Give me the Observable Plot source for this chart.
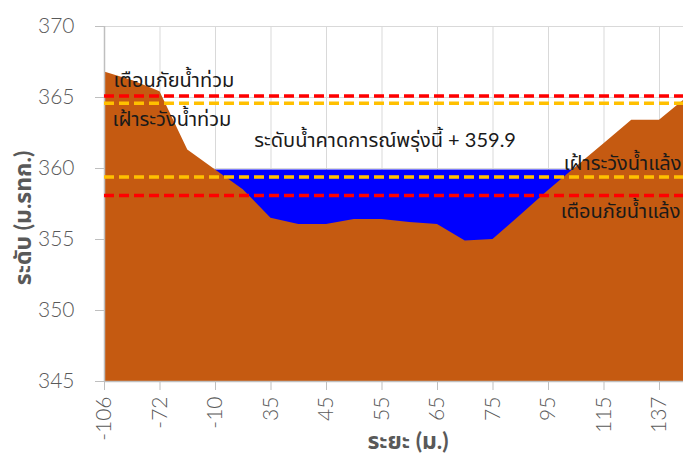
<!DOCTYPE html>
<html><head><meta charset="utf-8">
<script src="https://cdn.jsdelivr.net/npm/d3@7"></script>
<script src="https://cdn.jsdelivr.net/npm/@observablehq/plot@0.6"></script>
<style>
body{margin:0;background:#fff;overflow:hidden}
#chart svg{font-family:Lato,"Noto Sans Thai","Noto Sans",sans-serif}
</style>
</head><body><div id="chart"></div>
<script>
// Categories (distance, m) – every other one is labelled on the axis
const categories = ["-106","-89","-72","-41","-10","12","35","40","45","50","55","60","65","70","75","85","95","105","115","126","137","148"];
const tickLabels = ["-106","-72","-10","35","45","55","65","75","95","115","137"];
// Ground elevation (m MSL) at each category
const groundLevel = [366.8,366.2,365.4,361.3,359.9,358.5,356.5,356.05,356.05,356.4,356.4,356.2,356.05,354.9,355.0,356.7,358.45,360.1,361.75,363.4,363.4,365.0];
// Forecast water level (null where no water)
const waterLevel = [null,null,null,null,359.9,359.9,359.9,359.9,359.9,359.9,359.9,359.9,359.9,359.9,359.9,359.9,359.9,359.9,null,null,null,null];
const forecast = 359.9;
const yTicks = [345,350,355,360,365,370];
// Threshold levels
const floodWarning = 365.1;
const floodWatch = 364.6;
const droughtWatch = 359.4;
const droughtWarning = 358.1;
const floodWarningLabel = "เตือนภัยน้ำท่วม";
const floodWatchLabel = "เฝ้าระวังน้ำท่วม";
const droughtWatchLabel = "เฝ้าระวังน้ำแล้ง";
const droughtWarningLabel = "เตือนภัยน้ำแล้ง";
const forecastLabel = "ระดับน้ำคาดการณ์พรุ่งนี้ + " + forecast;
const xTitle = "ระยะ (ม.)";
const yTitle = "ระดับ (ม.รทก.)";

const ground = categories.map((c, i) => ({cat: c, y: groundLevel[i]}));
const water = categories.map((c, i) => ({cat: c, y: waterLevel[i]})).filter(d => d.y != null);
const base = yTicks[0];

const gray = "#595959";
const ink = "#1a1a1a";
const chart = Plot.plot({
  width: 683,
  height: 462,
  marginLeft: 104,
  marginRight: 0,
  marginTop: 26,
  marginBottom: 81,
  style: {overflow: "hidden"},
  x: {type: "point", domain: categories, range: [104, 686.75], padding: 0, align: 0, round: false},
  y: {domain: [345, 370]},
  marks: [
    Plot.ruleY(yTicks.slice(1), {stroke: "#d9d9d9", strokeWidth: 1}),
    Plot.ruleX(tickLabels.slice(1), {stroke: "#d9d9d9", strokeWidth: 1, y1: 345, y2: 370}),
    Plot.areaY(water, {x: "cat", y1: base, y2: "y", fill: "#0000ff", curve: "linear"}),
    Plot.areaY(ground, {x: "cat", y1: base, y2: "y", fill: "#c55a11", curve: "linear"}),
    Plot.ruleY([base], {stroke: "#bfbfbf", strokeWidth: 1.5}),
    Plot.ruleX([categories[0]], {stroke: "#bfbfbf", strokeWidth: 1.5, y1: 345, y2: 370}),
    Plot.axisY({ticks: yTicks, tickSize: 9, tickPadding: 21, fontSize: 21, stroke: "#bfbfbf", fill: gray, fontWeight: 300, label: null}),
    Plot.axisX({ticks: tickLabels, tickRotate: -90, tickSize: 9, tickPadding: 6, fontSize: 21, stroke: "#bfbfbf", fill: gray, fontWeight: 300, label: null}),
    Plot.ruleY([floodWarning], {stroke: "#ff0000", strokeWidth: 3.5, strokeDasharray: "10,5"}),
    Plot.ruleY([floodWatch], {stroke: "#ffc000", strokeWidth: 3.5, strokeDasharray: "10,5"}),
    Plot.ruleY([droughtWatch], {stroke: "#ffc000", strokeWidth: 3.5, strokeDasharray: "10,5"}),
    Plot.ruleY([droughtWarning], {stroke: "#ff0000", strokeWidth: 3.5, strokeDasharray: "10,5"}),
    Plot.text([floodWarningLabel], {x: () => categories[0], y: () => 366.2, dx: 9, textAnchor: "start", fontSize: 20, fill: ink}),
    Plot.text([floodWatchLabel], {x: () => categories[0], y: () => 363.45, dx: 8, textAnchor: "start", fontSize: 20, fill: ink}),
    Plot.text([forecastLabel], {x: () => categories[5], y: () => 362.0, dx: 11, textAnchor: "start", fontSize: 20, fill: ink}),
    Plot.text([droughtWatchLabel], {y: () => 360.35, frameAnchor: "right", textAnchor: "end", dx: -2, fontSize: 20, fill: ink}),
    Plot.text([droughtWarningLabel], {y: () => 356.97, frameAnchor: "right", textAnchor: "end", dx: -3, fontSize: 20, fill: ink}),
    Plot.text([xTitle], {frameAnchor: "bottom", textAnchor: "middle", dx: 14, dy: 67, fontSize: 23, fontWeight: "bold", fill: gray, letterSpacing: 1}),
    Plot.text([yTitle], {frameAnchor: "left", textAnchor: "middle", dx: -81, dy: 14, rotate: -90, fontSize: 23, fontWeight: "bold", fill: gray})
  ]
});
document.getElementById("chart").appendChild(chart);
</script>
</body></html>
